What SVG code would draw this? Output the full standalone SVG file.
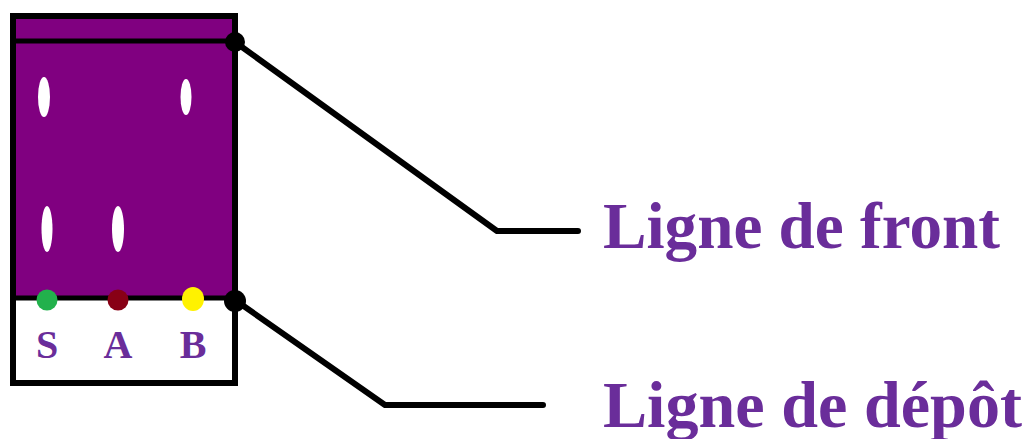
<svg xmlns="http://www.w3.org/2000/svg" width="1025" height="439" viewBox="0 0 1025 439">
  <style>
    .edge { fill: none; stroke: #000; stroke-width: 6; stroke-linejoin: round; stroke-linecap: round; }
    .label { font-family: "Liberation Serif", "Times New Roman", serif; font-weight: bold; fill: #6a2d9a; }
    .spot { fill: #fff; }
    .pin { fill: #000; }
  </style>
  <rect width="1025" height="439" fill="#fff"/>

  <!-- chromatography plate -->
  <g id="plate">
    <rect x="13" y="16" width="222" height="282" fill="#800080"/>
    <rect x="13" y="298" width="222" height="85" fill="#fff"/>
    <rect x="13" y="16" width="222" height="367" fill="none" stroke="#000" stroke-width="6"/>
    <line x1="13" y1="41" x2="235" y2="41" stroke="#000" stroke-width="5"/>
    <line x1="13" y1="298" x2="235" y2="298" stroke="#000" stroke-width="5"/>
    <!-- migrated spots -->
    <ellipse class="spot" cx="44" cy="97" rx="6" ry="20"/>
    <ellipse class="spot" cx="186" cy="97" rx="5.5" ry="18"/>
    <ellipse class="spot" cx="47" cy="229" rx="5.5" ry="23"/>
    <ellipse class="spot" cx="118" cy="229" rx="6" ry="23"/>
    <!-- deposits -->
    <circle cx="47" cy="300" r="10.5" fill="#22b14c"/>
    <circle cx="118" cy="300" r="10.5" fill="#880015"/>
    <ellipse cx="193" cy="299" rx="11" ry="12" fill="#fff200"/>
    <text class="label" x="47" y="358" font-size="40" text-anchor="middle" fill="#5e2d8c">S</text>
    <text class="label" x="118" y="358" font-size="40" text-anchor="middle">A</text>
    <text class="label" x="193" y="358" font-size="40" text-anchor="middle">B</text>
  </g>

  <!-- leader lines -->
  <g id="connectors">
    <polyline class="edge" points="235,42 497,231 578,231"/>
    <polyline class="edge" points="235,300 385,405 543,405"/>
    <circle class="pin" cx="235" cy="42" r="10"/>
    <circle class="pin" cx="235" cy="301" r="11"/>
  </g>

  <g id="front-label">
    <text class="label" x="603" y="248" font-size="65" textLength="397" lengthAdjust="spacingAndGlyphs">Ligne de front</text>
  </g>
  <g id="deposit-label">
    <text class="label" x="603" y="427" font-size="66" textLength="419" lengthAdjust="spacingAndGlyphs">Ligne de dépôt</text>
  </g>
</svg>
